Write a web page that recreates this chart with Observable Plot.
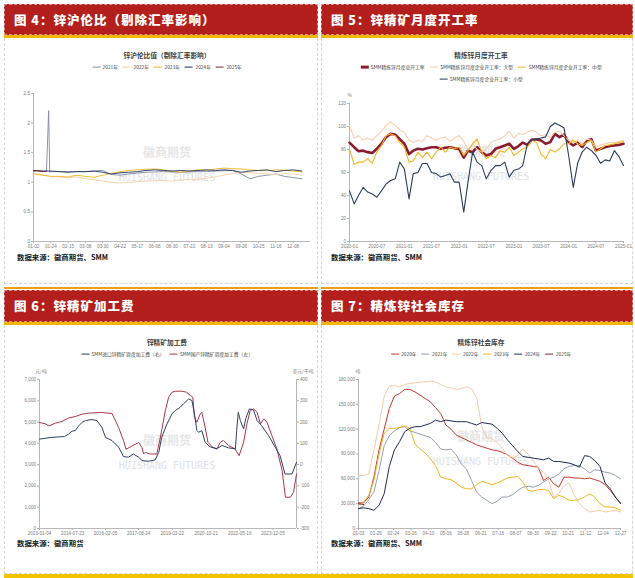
<!DOCTYPE html>
<html>
<head>
<meta charset="utf-8">
<script src="https://cdn.jsdelivr.net/npm/d3@7"></script>
<script src="https://cdn.jsdelivr.net/npm/@observablehq/plot@0.6"></script>
<style>
html,body{margin:0;padding:0;background:#fff;}
#root{position:relative;width:635px;height:578px;overflow:hidden;background:#fff;font-family:"Noto Sans CJK SC","Noto Sans",sans-serif;}
#root div{position:absolute;box-sizing:border-box;}
.hdr{background:#b21f1c;color:#fff;font-weight:900;font-size:12.5px;letter-spacing:1px;padding-left:9px;white-space:nowrap;border:1px dashed rgba(255,255,255,0.5);}
.bodybox{border:1px dashed #d6d6d6;border-top:none;}
.ct{font-size:6.7px;font-weight:bold;color:#404040;white-space:nowrap;transform:translate(-50%,-50%);line-height:1;}
.lg{display:flex;align-items:center;white-space:nowrap;transform:translate(-50%,-50%);font-size:4.8px;color:#404040;line-height:1;}
.lg span.it{display:inline-flex;align-items:center;margin:0 2.5px;}
.lg i{display:inline-block;width:8px;margin-right:2.5px;}
.src{font-size:7.4px;font-weight:bold;color:#1a1a1a;white-space:nowrap;transform:translateY(-50%);line-height:1;}
.wm{color:#e6e6e6;font-weight:bold;white-space:nowrap;transform:translate(-50%,-50%);line-height:1;}
.un{font-size:4.8px;color:#808080;white-space:nowrap;transform:translate(-50%,-50%);line-height:1;}
</style>
</head>
<body>
<div id="root"></div>
<script>
// ---------------- DATA ----------------
// Panel 4: 锌沪伦比值（剔除汇率影响）, x = trading-day index within year
const ratioDayLabels = ["01-02","01-24","02-15","03-08","03-30","04-22","05-17","06-08","06-30","07-22","08-13","09-04","09-26","10-25","11-16","12-08"];
const ratioYTicks = [0,0.5,1,1.5,2,2.5];
const ratioIdx = [0,8,16,24,32,40,48,56,64,72,80,88,96,104,112,120,128,136,144,152,160,168,176,184,192,200,208,216,224,232,240,248];
const ratio2021Idx = [0,8,12,14,15,16,24,32,40,48,56,64,72,80,88,96,104,112,120,128,136,144,152,160,168,176,184,192,200,208,216,224,232,240,248];
const ratio2021 = [1.19,1.19,1.18,2.21,1.17,1.18,1.18,1.18,1.18,1.18,1.19,1.20,1.13,1.12,1.14,1.155,1.17,1.175,1.18,1.175,1.17,1.175,1.18,1.18,1.19,1.195,1.20,1.14,1.06,1.10,1.12,1.14,1.10,1.08,1.06];
const ratio2022 = [1.15,1.13,1.10,1.09,1.08,1.09,1.06,1.04,1.02,1.00,0.99,1.00,1.01,1.02,1.03,1.03,1.02,1.04,1.05,1.05,1.07,1.09,1.12,1.15,1.17,1.16,1.15,1.14,1.13,1.15,1.14,1.12];
const ratio2023 = [1.14,1.12,1.10,1.10,1.09,1.12,1.10,1.085,1.12,1.15,1.18,1.20,1.21,1.22,1.225,1.21,1.19,1.17,1.19,1.21,1.20,1.225,1.24,1.23,1.225,1.21,1.20,1.195,1.21,1.205,1.19,1.175];
const ratio2024 = [1.20,1.19,1.19,1.18,1.17,1.18,1.18,1.19,1.17,1.14,1.16,1.17,1.18,1.20,1.21,1.20,1.19,1.20,1.19,1.20,1.21,1.20,1.21,1.20,1.17,1.19,1.20,1.21,1.18,1.20,1.21,1.19];
const ratio2025Idx = [0,4,8,12];
const ratio2025 = [1.19,1.20,1.18,1.19];
const ratioNames = ["2021年","2022年","2023年","2024年","2025年"];
const ratioColors = ["#7d8aa3","#f6cfa6","#f2b51f","#22345e","#7d2236"];

// Panel 5: 精炼锌月度开工率 (monthly, 2020-01 .. 2025-01)
const rateStart = "2020-01";
const rateTickLabels = ["2020-01","2020-07","2021-01","2021-07","2022-01","2022-07","2023-01","2023-07","2024-01","2024-07","2025-01"];
const rateYTicks = [0,20,40,60,80,100,120];
const rateTotal = [86,82,78.5,79,77.7,77,80.6,85,90.8,93.6,93,89, 85,76,79,80.6,80,81,82,82,80.6,81.5,82,81, 80.6,73,79,77.7,82,77.7,74.8,76,80.6,82,83.5,85, 80.6,83,86,84,88.7,88.7,87.8,85,86.4,93.6,90.8,93, 86.4,83.5,86,82,87.8,89,79,80.6,82,83,83.5,84, 85];
const rateLarge = [101,90,92,88,90,88,92,96,101,104,101,97, 95,88,86,88,87,92,90,88,90,91,87,90, 92,87,80,85,80,78,80,86,88,89,92,96, 90,94,93,95,97,95,92,93,90,95,96,92, 88,86,88,85,89,88,82,84,85,86,86,87, 88];
const rateMedium = [80.6,67,69,69,72,68,77.7,83.5,92,93.6,92,86, 82,69,70,77.7,73,77.7,72,77.7,82,77.7,82,80.6, 82,74.8,79,85,89,77.7,72,74.8,73,79,77.7,82, 74.8,77.7,80.6,82,88,86,76,72,80,77.7,80.6,85, 85,88,85,83.5,86,88,77.7,80.6,83.5,84,85,86, 87];
const rateSmall = [44,32.7,40,47,43,41.4,38.5,44,50,53,54.5,69, 63,37,59,60,67.8,67.8,60,59,56,57.4,59,51.6, 51.6,25.5,51.6,77.7,69,66,54.5,61.7,66,66,69,56, 62,63,66,85,88,89,90,91,100,103,101,99, 75,47,68,78,82,79,75,68,71,70,79,74, 66];
const rateNames = ["SMM精炼锌月度总开工率","SMM精炼锌月度企业开工率：大型","SMM精炼锌月度企业开工率：中型","SMM精炼锌月度企业开工率：小型"];
const rateColors = ["#8b1c2f","#f8cfae","#f2b51f","#2c3b62"];

// Panel 6: 锌精矿加工费
const tcTickLabels = ["2013-01-04","2014-07-23","2016-02-05","2017-08-24","2019-03-22","2020-10-21","2022-05-16","2023-12-05"];
const tcLeftTicks = [0,1000,2000,3000,4000,5000,6000,7000];
const tcRightTicks = [-300,-200,-100,0,100,200,300,400];
const tcDomDates = ["2013-01-04","2013-04-12","2013-06-14","2013-10-04","2014-01-24","2014-05-16","2014-09-05","2015-01-02","2015-04-24","2015-12-04","2016-05-27","2016-09-16","2016-12-09","2017-01-20","2017-05-05","2017-08-25","2017-10-20","2017-11-17","2017-12-15","2018-03-09","2018-06-29","2018-08-10","2018-09-21","2018-11-23","2019-01-18","2019-03-15","2019-05-10","2019-09-06","2019-11-22","2020-01-24","2020-03-06","2020-04-03","2020-05-15","2020-07-10","2020-08-07","2020-10-02","2020-11-20","2021-01-29","2021-04-23","2021-06-18","2021-08-13","2021-11-05","2022-02-25","2022-05-06","2022-07-22","2022-09-16","2022-11-11","2023-01-06","2023-03-10","2023-05-05","2023-06-30","2023-08-25","2023-11-17","2024-02-09","2024-05-10","2024-07-05","2024-09-27","2024-11-22","2025-01-10"];
const tcDomValues = [4980,4920,4820,4950,5030,5190,5260,5370,5420,5450,5400,4750,4130,3720,3880,4040,3800,3500,3580,3500,3500,4000,4600,5540,6170,6400,6450,6450,6400,6250,6170,5230,4990,5380,5460,4760,4050,3840,3740,4050,4130,3900,3740,3420,4050,4910,5540,5620,5460,4910,5150,4990,4360,3740,2720,1470,1470,1710,2560];
const tcImpDates = ["2013-01-04","2013-07-26","2014-03-07","2014-05-16","2014-07-11","2014-09-05","2014-11-07","2015-01-02","2015-02-27","2015-06-19","2015-09-11","2015-12-04","2016-02-05","2016-05-27","2016-09-16","2016-12-09","2017-03-03","2017-05-26","2017-08-25","2017-10-20","2018-02-09","2018-06-01","2018-08-03","2018-09-21","2018-12-21","2019-03-15","2019-05-10","2019-08-02","2019-09-27","2019-12-27","2020-02-21","2020-04-03","2020-05-15","2020-06-12","2020-08-07","2020-10-02","2020-12-25","2021-04-16","2021-07-16","2021-11-05","2022-03-04","2022-03-25","2022-04-22","2022-05-27","2022-07-22","2022-08-26","2022-10-28","2023-01-06","2023-03-10","2023-05-26","2023-09-22","2024-01-12","2024-04-05","2024-06-28","2024-10-25","2025-01-10"];
const tcImpValues = [120,128,132,144,157,160,183,199,207,212,207,176,128,113,82,38,35,50,35,19,16,22,58,128,191,238,254,269,285,309,301,238,160,152,160,105,84,74,90,79,74,160,246,207,168,215,262,257,207,183,136,82,42,-44,-44,11];
const tcNames = ["SMM进口锌精矿周度加工费（右）","SMM国产锌精矿周度加工费（左）"];
const tcColors = ["#2e3f67","#a8384a"];

// Panel 7: 精炼锌社会库存 (weekly, thousand tonnes)
const invTickLabels = ["01-03","01-26","02-24","03-16","04-10","05-06","05-28","06-21","07-16","08-07","08-30","09-22","10-21","11-12","12-04","12-27"];
const invYTicks = [0,30000,60000,90000,120000,150000,180000];
const inv2020 = [31,31,38,62,95,120,145,160,163,168,168,165,161,157,153,146,139,125,120,113,110,107,104,101,99,97,95,94,92,89,85,80,77,76,75,74,58,62,54,50,62,62,61,61,60,61,59,57,53,46,38,31];
const inv2021 = [24,27,35,44,70,100,112,118,122,123,118,116,114,112,110,104,96,95,96,89,78,72,58,44,38,34,30,33,38,38,41,46,50,51,50,52,56,60,62,66,72,75,76,76,72,67,71,70,68,67,64,60];
const inv2022 = [64,64,66,95,125,160,172,173,171,174,175,176,177,177,178,177,174,171,170,168,169,171,169,158,123,110,108,104,97,88,86,88,96,90,82,73,68,58,38,42,52,55,40,30,24,20,21,22,20,21,22,20];
const inv2023 = [28,32,40,58,90,115,121,121,122,124,121,102,96,91,84,76,62,60,59,55,50,48,48,53,57,55,53,55,58,61,62,63,56,46,45,47,47,46,36,40,38,34,34,35,38,42,38,30,26,26,25,22];
const inv2024 = [24,25,24,22,28,42,75,95,105,117,121,123,123,125,127,131,129,131,130,129,129,129,127,125,128,127,126,121,115,107,100,93,87,86,85,84,83,85,81,81,80,79,77,74,88,87,82,75,55,48,38,30];
const inv2025 = [30,29];
const invNames = ["2020年","2021年","2022年","2023年","2024年","2025年"];
const invColors = ["#c23a2e","#97a0b0","#f8cba8","#f2b51f","#1f2d56","#7b2a3a"];

// ---------------- LAYOUT ----------------
const root = document.getElementById("root");
const px = v => v + "px";
function add(cls, css, text) {
  const d = document.createElement("div");
  if (cls) d.className = cls;
  Object.assign(d.style, css);
  if (text != null) d.textContent = text;
  root.appendChild(d);
  return d;
}
const cols = [{x:4, w:314}, {x:321, w:312}];
const rowsL = [{h0:4, hh:31, b0:38, b1:284}, {h0:290, hh:32, b0:325, b1:574}];
const titles = [["图 4：锌沪伦比（剔除汇率影响）","图 5：锌精矿月度开工率"],["图 6：锌精矿加工费","图 7：精炼锌社会库存"]];
rowsL.forEach((r, ri) => cols.forEach((c, ci) => {
  add("bodybox", {left:px(c.x), top:px(r.b0), width:px(c.w), height:px(r.b1 - r.b0)});
  if (ri === 1) add("", {left:px(c.x), top:"287px", width:px(c.w), height:"2px", background:"#ee9f1a"});
  add("hdr", {left:px(c.x), top:px(r.h0), width:px(c.w), height:px(r.hh), lineHeight:px(r.hh - 2)}, titles[ri][ci]);
  add("", {left:px(c.x), top:px(r.h0 + r.hh), width:px(c.w), height:"3px", background:"#f2b705"});
}));
add("", {left:"4px", top:"574px", width:"629px", height:"4px", background:"#f3c300"});

function legend(cx, cy, items) {
  const d = add("lg", {left:px(cx), top:px(cy)});
  for (const [t, c, h] of items) {
    const s = document.createElement("span"); s.className = "it";
    const i = document.createElement("i"); i.style.background = c; i.style.height = px(h || 1.6);
    s.appendChild(i); s.appendChild(document.createTextNode(t)); d.appendChild(s);
  }
}
function wm(cx, cy, cjk, en) {
  add("wm", {left:px(cx), top:px(cy), fontSize:"12px"}, cjk);
  add("wm", {left:px(cx), top:px(cy + 26), fontSize:"10px", fontFamily:'"DejaVu Sans Mono", monospace', fontWeight:"normal", color:"#e2e2e2"}, en);
}
function place(svg, left, top) {
  const d = add("", {left:px(left), top:px(top)});
  d.appendChild(svg);
}

// titles, legends, sources, units
add("ct", {left:"167px", top:"55px"}, "锌沪伦比值（剔除汇率影响）");
legend(167, 67, ratioNames.map((n, i) => [n, ratioColors[i]]));
add("src", {left:"17px", top:"257px"}, "数据来源：徽商期货、SMM");
wm(167, 152, "徽商期货", "HUISHANG FUTURES");

add("ct", {left:"481px", top:"55px"}, "精炼锌月度开工率");
legend(481, 67, rateNames.slice(0, 3).map((n, i) => [n, rateColors[i], i === 0 ? 2.6 : 1.6]));
legend(481, 79, [[rateNames[3], rateColors[3]]]);
add("src", {left:"331px", top:"257px"}, "数据来源：徽商期货、SMM");
add("un", {left:"350px", top:"95px"}, "%");
wm(481, 151, "徽商期货", "HUISHANG FUTURES");

add("ct", {left:"167px", top:"342px"}, "锌精矿加工费");
legend(167, 354, tcNames.map((n, i) => [n, tcColors[i]]));
add("src", {left:"17px", top:"543px"}, "数据来源：徽商期货");
add("un", {left:"41px", top:"371px"}, "元/吨");
add("un", {left:"303px", top:"371px"}, "美元/干吨");
wm(167, 440, "徽商期货", "HUISHANG FUTURES");

add("ct", {left:"481px", top:"342px"}, "精炼锌社会库存");
legend(481, 354, invNames.map((n, i) => [n, invColors[i]]));
add("src", {left:"331px", top:"543px"}, "数据来源：徽商期货、SMM");
add("un", {left:"358px", top:"371px"}, "吨");
wm(481, 436, "徽商期货", "HUISHANG FUTURES");

// ---------------- PLOTS ----------------
const baseStyle = {background:"transparent", fontSize:"4.6px", color:"#7a7a7a", fontFamily:'"Liberation Sans", Arial, sans-serif', overflow:"visible"};
const axisOpts = {tickSize:2, tickPadding:1.5, label:null, stroke:"#b0b0b0"};
const pd = d3.utcParse("%Y-%m-%d");
const pm = d3.utcParse("%Y-%m");

// Panel 4
const ratioTickIdx = ratioDayLabels.map((_, i) => i * 16);
const ratioSeries = [
  [ratio2021Idx, ratio2021], [ratioIdx, ratio2022], [ratioIdx, ratio2023], [ratioIdx, ratio2024], [ratio2025Idx, ratio2025]
];
const p4 = Plot.plot({
  width:318, height:170, marginLeft:33, marginRight:8, marginTop:8, marginBottom:14,
  style: baseStyle,
  x:{domain:[0, 256]}, y:{domain:[0, 2.5]},
  marks: [
    Plot.axisY({...axisOpts, ticks: ratioYTicks, tickFormat: d => String(d)}),
    Plot.axisX({...axisOpts, ticks: ratioTickIdx, tickFormat: d => ratioDayLabels[ratioTickIdx.indexOf(d)]}),
    Plot.ruleX([0], {stroke:"#b8b8b8"}),
    Plot.ruleY([0], {stroke:"#b8b8b8"}),
    ...ratioSeries.map(([idx, vals], k) =>
      Plot.line(vals.map((v, i) => ({x: idx[i], y: v})), {x:"x", y:"y", stroke: ratioColors[k], strokeWidth: 0.9}))
  ]
});
place(p4, 0, 85);

// Panel 5
const rateMonths = rateTotal.map((_, i) => d3.utcMonth.offset(pm(rateStart), i));
const rateSeries = [rateTotal, rateLarge, rateMedium, rateSmall];
const p5 = Plot.plot({
  width:317, height:170, marginLeft:31, marginRight:12, marginTop:18, marginBottom:14,
  style: baseStyle,
  x:{type:"utc", domain:[pm(rateTickLabels[0]), pm(rateTickLabels[rateTickLabels.length - 1])]},
  y:{domain:[0, 120]},
  marks: [
    Plot.axisY({...axisOpts, ticks: rateYTicks}),
    Plot.axisX({...axisOpts, ticks: rateTickLabels.map(pm), tickFormat: d3.utcFormat("%Y-%m")}),
    Plot.ruleX([pm(rateTickLabels[0])], {stroke:"#b8b8b8"}),
    Plot.ruleY([0], {stroke:"#b8b8b8"}),
    ...rateSeries.map((vals, k) =>
      Plot.line(vals.map((v, i) => ({x: rateMonths[i], y: v})), {x:"x", y:"y", stroke: rateColors[k], strokeWidth: k === 0 ? 2.6 : 1.1}))
  ]
});
place(p5, 318, 85);

// Panel 6
const toLeft = usd => (usd + 300) * 10;
const p6 = Plot.plot({
  width:318, height:175, marginLeft:39, marginRight:22, marginTop:14, marginBottom:12,
  style: baseStyle,
  x:{type:"utc", domain:[pd(tcDomDates[0]), pd(tcDomDates[tcDomDates.length - 1])]},
  y:{domain:[0, 7000]},
  marks: [
    Plot.axisY({...axisOpts, ticks: tcLeftTicks, tickFormat: d3.format(",")}),
    Plot.axisY({...axisOpts, anchor:"right", ticks: tcRightTicks.map(toLeft), tickFormat: d => String(Math.round(d / 10 - 300))}),
    Plot.axisX({...axisOpts, ticks: tcTickLabels.map(pd), tickFormat: d3.utcFormat("%Y-%m-%d")}),
    Plot.ruleX([pd(tcDomDates[0]), pd(tcDomDates[tcDomDates.length - 1])], {stroke:"#b8b8b8"}),
    Plot.ruleY([0], {stroke:"#b8b8b8"}),
    Plot.line(tcDomDates.map((d, i) => ({x: pd(d), y: tcDomValues[i]})), {x:"x", y:"y", stroke: tcColors[1], strokeWidth: 1}),
    Plot.line(tcImpDates.map((d, i) => ({x: pd(d), y: toLeft(tcImpValues[i])})), {x:"x", y:"y", stroke: tcColors[0], strokeWidth: 1})
  ]
});
place(p6, 0, 365);

// Panel 7
const invTickPos = invTickLabels.map((_, i) => i * 51 / (invTickLabels.length - 1));
const invSeries = [inv2020, inv2021, inv2022, inv2023, inv2024, inv2025];
const p7 = Plot.plot({
  width:317, height:175, marginLeft:40, marginRight:15, marginTop:14, marginBottom:12,
  style: baseStyle,
  x:{domain:[0, 51]}, y:{domain:[0, 180000]},
  marks: [
    Plot.axisY({...axisOpts, ticks: invYTicks, tickFormat: d3.format(",")}),
    Plot.axisX({...axisOpts, ticks: invTickPos, tickFormat: d => invTickLabels[invTickPos.indexOf(d)]}),
    Plot.ruleX([0], {stroke:"#b8b8b8"}),
    Plot.ruleY([0], {stroke:"#b8b8b8"}),
    ...invSeries.map((vals, k) =>
      Plot.line(vals.map((v, i) => ({x: i, y: v * 1000})), {x:"x", y:"y", stroke: invColors[k], strokeWidth: 1}))
  ]
});
place(p7, 318, 365);
</script>
</body>
</html>
